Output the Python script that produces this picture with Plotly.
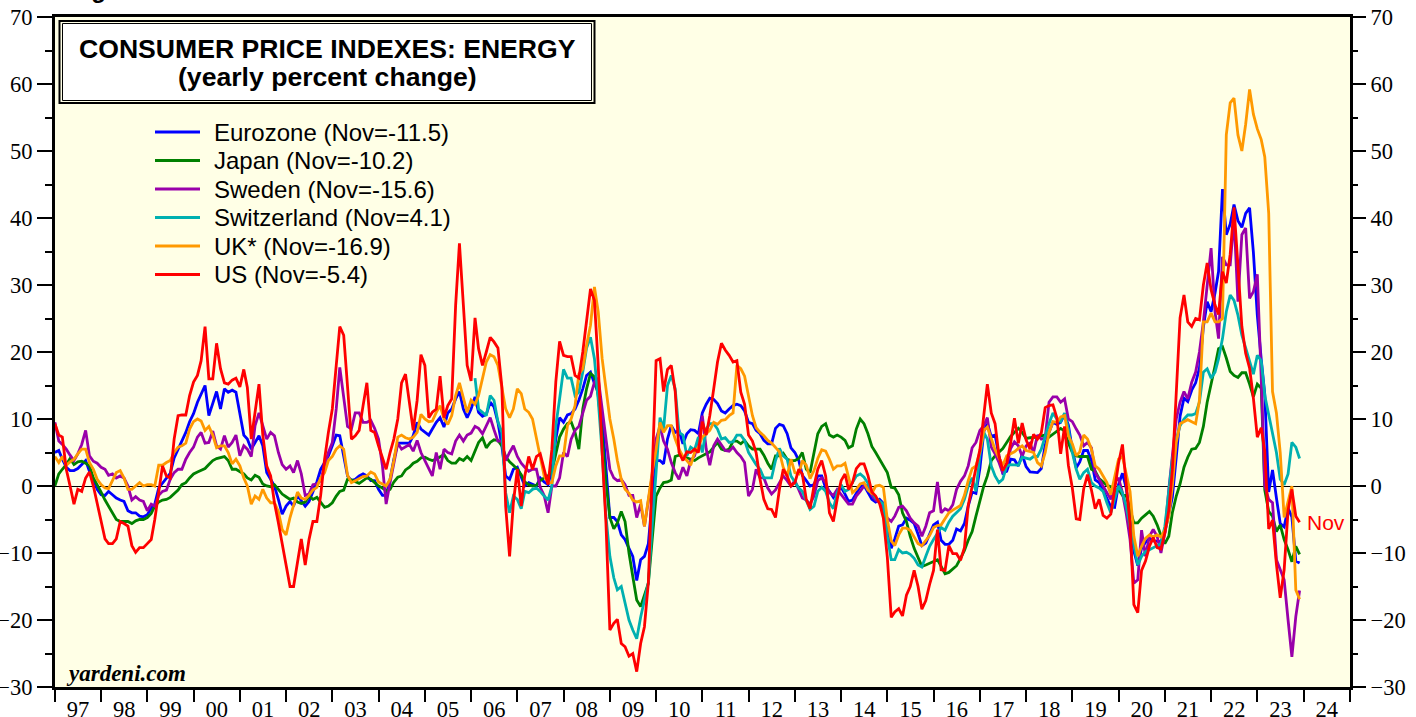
import pandas as pd
import plotly.graph_objects as go

# ---------------- data (yearly percent change, monthly; Dec 1996 .. Nov 2023) ----------------
us_values = (
    [9.3] +                                                                        # Dec 1996
    [7.6, 7.3, 2.5, 0.0, -2.7, -0.5, -0.8, 1.2, 2.1, 0.0, -2.7, -5.6] +          # 1997
    [-7.9, -8.6, -8.6, -7.9, -5.3, -5.6, -6.0, -8.9, -9.9, -9.2, -9.2, -8.6] +   # 1998
    [-8.0, -5.0, -1.0, 3.0, 1.5, 1.2, 7.0, 10.5, 10.6, 10.6, 13.5, 15.5] +       # 1999
    [16.5, 18.7, 23.8, 16.0, 16.0, 21.3, 17.5, 15.4, 15.2, 15.8, 16.1, 14.8] +   # 2000
    [17.4, 14.7, 7.0, 11.0, 15.2, 7.6, 3.0, 1.5, -2.5, -5.5, -8.5, -11.8] +      # 2001
    [-15.0, -15.0, -11.1, -7.9, -11.8, -8.0, -5.3, -5.3, -1.4, 4.0, 8.0, 11.5] + # 2002
    [18.0, 23.8, 22.5, 14.1, 7.0, 7.5, 8.3, 12.0, 15.4, 8.3, 8.0, 6.0] +         # 2003
    [4.0, 2.5, 5.0, 7.0, 10.0, 15.4, 16.7, 12.8, 8.3, 12.8, 19.6, 18.0] +        # 2004
    [10.2, 11.0, 11.5, 16.4, 10.2, 12.0, 13.0, 27.0, 36.2, 27.0, 18.0, 15.7] +   # 2005
    [25.1, 20.5, 18.0, 20.0, 22.2, 21.5, 20.6, 14.8, -3.0, -10.5, -2.5, 2.5] +   # 2006
    [-3.0, 1.5, 4.4, 2.5, 4.4, 4.8, 2.5, 0.2, 5.5, 15.5, 21.6, 19.5] +           # 2007
    [19.3, 19.3, 16.5, 16.1, 20.0, 24.5, 29.4, 27.7, 18.0, 5.0, -5.5, -21.5] +   # 2008
    [-20.5, -19.9, -23.5, -24.0, -25.4, -25.0, -27.7, -23.5, -21.0, -14.4, 2.0, 18.7] +  # 2009
    [19.0, 14.1, 17.4, 18.0, 14.1, 5.0, 3.8, 5.1, 5.0, 5.5, 5.0, 9.6] +          # 2010
    [7.6, 10.5, 14.5, 18.5, 21.3, 20.3, 19.5, 18.5, 18.7, 14.0, 12.2, 7.6] +     # 2011
    [6.7, 5.0, 1.0, -2.0, -3.4, -3.5, -4.7, -0.5, 2.5, 1.5, 0.0, 0.5] +          # 2012
    [2.5, 1.8, -2.0, -3.4, 0.0, 2.5, 3.8, 1.5, -4.0, -5.3, -2.0, 0.8] +          # 2013
    [1.8, -0.5, 0.5, 2.6, 3.3, 3.3, 1.6, -0.9, -1.5, -2.6, -4.8, -10.6] +        # 2014
    [-19.6, -18.8, -18.3, -19.4, -16.3, -15.0, -12.6, -15.0, -18.4, -17.1, -14.7, -12.6] +  # 2015
    [-6.5, -12.5, -12.6, -8.9, -10.1, -10.1, -11.1, -9.2, -2.9, 0.2, 2.7, 5.4] + # 2016
    [10.8, 15.2, 10.9, 9.3, 4.5, 2.3, 3.4, 6.4, 10.1, 6.4, 9.4, 6.9] +           # 2017
    [5.5, 7.7, 7.0, 7.9, 11.7, 12.0, 12.1, 10.2, 4.8, 8.9, 3.1, -0.3] +          # 2018
    [-4.9, -5.0, -0.4, 1.7, -0.6, -3.4, -2.0, -4.4, -4.8, -4.2, -0.6, 3.4] +     # 2019
    [6.2, 0.0, -5.7, -17.7, -18.9, -12.6, -11.2, -9.0, -7.7, -9.2, -9.4, -7.0] + # 2020
    [-3.6, 2.4, 13.2, 25.1, 28.5, 24.5, 23.8, 25.0, 24.8, 30.0, 33.3, 29.3] +    # 2021
    [27.0, 25.6, 32.0, 30.3, 34.6, 41.6, 32.9, 23.8, 19.8, 17.6, 13.1, 7.3] +    # 2022
    [8.7, 5.2, -6.4, -5.1, -11.7, -16.7, -12.5, -3.6, -0.5, -4.5, -5.4]          # 2023
)

eurozone_values = (
    [5.0] +
    [5.3, 4.0, 2.8, 2.3, 2.3, 2.6, 3.2, 3.8, 2.2, 1.0, -0.5, -1.3] +
    [-1.4, -0.8, -1.3, -1.8, -2.1, -2.3, -3.7, -4.0, -4.0, -4.5, -4.6, -4.3] +
    [-3.3, -2.7, -0.3, 0.4, 1.2, 1.9, 4.2, 5.5, 6.5, 8.0, 9.6, 10.8] +
    [12.5, 13.8, 15.0, 10.5, 12.5, 14.1, 11.5, 14.5, 14.0, 14.3, 14.0, 10.5] +
    [7.6, 7.0, 5.5, 6.5, 7.5, 6.0, 2.0, 1.0, 0.0, -2.0, -4.2, -3.0] +
    [-2.3, -3.0, -1.4, -2.2, -3.0, -2.3, -0.8, 0.6, 2.5, 3.6, 4.5, 6.0] +
    [7.6, 7.5, 4.5, 1.5, 0.8, 1.0, 1.5, 1.8, 1.5, 0.8, 0.8, -0.5] +
    [-1.4, -1.4, 1.0, 4.0, 6.4, 6.4, 6.4, 6.4, 7.5, 9.5, 8.5, 8.0] +
    [7.6, 8.5, 9.5, 10.2, 8.8, 10.9, 11.5, 13.0, 14.1, 11.5, 10.2, 11.5] +
    [13.3, 11.0, 10.4, 10.7, 12.5, 11.8, 9.5, 6.0, 1.5, 1.0, 2.5, 2.8] +
    [1.2, 0.0, 0.5, 0.2, 0.0, 1.2, 0.6, 0.2, 2.5, 7.0, 10.2, 9.5] +
    [10.6, 10.8, 11.5, 12.8, 14.5, 16.5, 17.0, 15.3, 14.0, 10.0, 2.0, -4.7] +
    [-4.7, -5.3, -7.3, -8.0, -9.3, -10.5, -14.1, -11.0, -10.5, -8.6, -2.0, 3.8] +
    [3.8, 3.3, 7.0, 9.0, 8.0, 8.3, 6.3, 7.8, 8.4, 8.3, 7.8, 10.9] +
    [12.2, 13.1, 12.9, 12.3, 11.2, 10.9, 11.5, 12.0, 12.2, 12.0, 11.2, 9.5] +
    [9.3, 8.3, 7.8, 6.8, 6.3, 6.3, 8.6, 9.2, 9.0, 7.8, 5.7, 5.0] +
    [3.8, 1.6, 0.8, 0.0, 0.2, 1.5, 1.5, -0.3, -0.8, -1.7, -0.9, -0.2] +
    [-1.2, -2.3, -2.1, -1.2, -0.1, 0.1, -1.0, -2.0, -2.4, -2.0, -2.6, -6.3] +
    [-9.3, -7.9, -6.0, -5.8, -4.8, -5.1, -5.6, -7.2, -8.9, -8.5, -7.3, -5.8] +
    [-5.4, -8.1, -8.7, -8.7, -8.1, -6.4, -6.7, -5.6, -3.0, -0.9, -1.1, 2.6] +
    [8.1, 9.3, 7.4, 7.6, 4.5, 1.9, 2.2, 4.0, 3.9, 3.0, 4.7, 2.9] +
    [2.1, 2.1, 2.0, 2.6, 6.1, 8.0, 9.5, 9.2, 9.5, 10.7, 9.1, 5.5] +
    [2.7, 3.6, 5.3, 5.3, 3.8, 0.9, 0.5, -0.6, -1.8, -3.1, -3.2, 0.2] +
    [1.9, -0.3, -4.5, -9.7, -11.9, -9.3, -8.4, -7.8, -8.2, -8.2, -8.3, -6.9] +
    [-4.2, -1.7, 4.3, 10.4, 13.1, 12.6, 14.3, 15.4, 17.6, 23.7, 27.5, 26.0] +
    [28.8, 32.0, 44.3, 37.5, 39.1, 42.0, 39.6, 38.6, 40.7, 41.5, 34.9, 25.5] +
    [18.9, 13.7, -0.9, 2.4, -1.8, -5.6, -6.1, -3.3, -4.6, -11.2, -11.5]
)

japan_values = (
    [0.0] +
    [1.8, 2.5, 3.2, 4.1, 3.2, 3.6, 3.7, 3.4, 3.0, 1.2, 0.2, -0.9] +
    [-2.1, -3.0, -4.2, -5.0, -5.3, -5.3, -5.3, -5.6, -5.2, -5.0, -5.0, -4.7] +
    [-4.1, -3.0, -2.4, -2.1, -2.0, -1.7, -1.2, -0.6, 0.2, 0.5, 1.2, 1.8] +
    [2.1, 2.4, 2.6, 3.2, 3.8, 4.1, 4.3, 4.4, 3.8, 2.5, 2.5, 2.2] +
    [1.8, 1.2, 0.9, 1.6, 1.3, 0.3, 0.0, -0.1, 0.2, -0.5, -1.2, -1.6] +
    [-2.0, -1.8, -2.4, -2.6, -2.4, -1.5, -2.0, -1.7, -2.4, -3.2, -3.0, -2.5] +
    [-1.5, -0.8, -0.6, 1.0, 0.9, 0.6, 0.4, 0.8, 1.2, 1.0, 0.5, 0.0] +
    [-0.3, -0.7, -0.5, 0.6, 1.3, 1.5, 2.4, 2.8, 3.4, 3.7, 4.2, 4.3] +
    [4.0, 3.8, 4.0, 4.4, 4.7, 3.8, 3.4, 3.4, 4.1, 3.8, 4.4, 3.8] +
    [5.2, 6.5, 7.2, 5.7, 6.5, 6.9, 6.8, 6.0, 4.4, 3.6, 3.1, 2.5] +
    [1.7, 0.6, 0.2, 0.0, 0.1, 0.8, 1.2, 1.5, 2.2, 4.8, 7.3, 8.5] +
    [9.3, 9.6, 8.0, 5.5, 11.5, 14.5, 16.8, 16.3, 13.5, 7.5, 0.5, -4.7] +
    [-6.4, -5.5, -3.8, -5.3, -10.0, -13.5, -17.0, -18.0, -16.3, -14.5, -8.0, -1.5] +
    [-0.3, 0.5, 0.6, 0.9, 4.4, 4.6, 4.4, 4.2, 4.0, 3.8, 4.2, 4.5] +
    [4.8, 5.1, 5.8, 6.5, 5.5, 5.3, 5.5, 6.7, 6.7, 6.3, 6.8, 6.0] +
    [5.5, 5.5, 5.5, 4.6, 3.4, 2.5, 4.5, 4.5, 4.9, 4.0, 3.8, 3.8] +
    [4.1, 5.0, 2.5, 2.0, 4.7, 7.8, 8.9, 9.3, 7.6, 7.3, 7.6, 7.3] +
    [6.8, 5.7, 6.0, 8.5, 10.0, 9.3, 7.8, 5.9, 5.0, 4.0, 3.0, 2.0] +
    [-0.2, -0.3, -1.3, -4.0, -5.3, -7.5, -9.3, -10.6, -12.0, -11.8, -11.5, -11.2] +
    [-11.0, -12.0, -13.1, -12.9, -12.4, -11.9, -10.8, -9.6, -8.1, -6.8, -4.5, -2.3] +
    [0.0, 1.5, 3.8, 4.5, 5.0, 5.6, 6.5, 7.4, 8.0, 8.6, 8.0, 7.1] +
    [7.2, 7.2, 7.3, 7.5, 7.6, 7.3, 7.7, 8.1, 8.6, 8.2, 6.4, 5.0] +
    [4.5, 4.4, 4.4, 4.4, 2.5, 2.2, 1.1, 0.6, 0.1, -0.1, -0.8, -0.5] +
    [-1.4, -1.4, -3.7, -5.5, -5.5, -4.8, -4.3, -3.8, -4.5, -5.8, -7.4, -8.6] +
    [-7.5, -4.0, -1.5, 0.3, 2.8, 4.3, 5.5, 5.6, 6.5, 8.9, 12.5, 15.0] +
    [17.9, 20.5, 20.8, 19.1, 17.1, 16.5, 16.2, 16.9, 16.9, 15.2, 13.3, 15.2] +
    [14.6, -0.6, -3.8, -4.5, -6.8, -5.8, -8.0, -9.5, -11.3, -9.0, -10.2]
)

sweden_values = (
    [9.5] +
    [6.7, 6.2, 5.5, 4.6, 3.8, 4.8, 6.2, 8.3, 4.5, 3.7, 3.4, 2.8] +
    [2.5, 1.6, 1.8, 1.2, 1.5, 1.2, 0.0, -2.1, -1.6, -2.1, -2.3, -3.7] +
    [-2.7, -3.0, -1.4, -0.8, -0.6, 1.0, 2.0, 2.5, 2.5, 4.0, 5.0, 5.8] +
    [7.3, 8.0, 6.4, 6.5, 8.2, 6.0, 5.5, 7.5, 5.8, 6.5, 7.6, 4.5] +
    [6.0, 5.5, 4.4, 9.0, 10.9, 9.0, 7.0, 8.0, 7.5, 5.0, 3.2, 2.5] +
    [3.0, 2.0, 3.8, 1.8, -1.4, -1.2, 0.2, 0.3, 0.8, 3.0, 5.0, 6.5] +
    [11.5, 17.7, 13.0, 8.9, 8.5, 10.9, 10.9, 9.5, 9.5, 9.8, 8.6, 7.0] +
    [3.0, -2.7, 0.5, 3.5, 6.4, 5.5, 5.8, 6.2, 5.2, 6.8, 5.0, 3.8] +
    [2.5, 1.5, 5.0, 2.5, 5.5, 5.0, 4.8, 6.7, 7.6, 6.7, 7.6, 7.9] +
    [8.9, 8.6, 7.8, 8.9, 10.2, 8.4, 6.7, 6.7, 3.8, 5.0, 6.0, 4.4] +
    [3.4, 2.8, 2.2, 2.5, 2.5, -0.2, -1.4, -4.0, 0.0, 0.0, 1.2, 5.0] +
    [4.4, 7.0, 8.3, 8.9, 11.0, 12.8, 13.4, 15.5, 16.1, 11.5, 7.0, 2.5] +
    [1.2, 0.8, 1.0, 0.2, -1.4, -1.4, -4.7, -2.7, -6.0, -2.0, 1.5, 7.0] +
    [8.9, 6.7, 5.5, 3.5, 2.0, 1.0, 2.8, 1.5, 3.8, 4.5, 6.5, 10.5] +
    [5.5, 3.1, 6.0, 7.0, 6.2, 5.3, 5.2, 5.8, 5.0, 4.4, 3.5, -1.5] +
    [-0.5, 2.5, 1.2, 1.2, -0.3, -1.2, -0.6, 0.5, 1.5, 0.8, 0.0, 0.8] +
    [-0.5, -1.8, -2.1, -2.7, -1.5, 0.8, 1.2, 0.5, -1.0, -1.4, -0.5, -1.2] +
    [-2.0, -2.7, -2.7, -1.5, -0.8, 0.0, 0.1, -1.4, -2.1, -2.5, -3.7, -4.8] +
    [-5.3, -4.5, -3.2, -3.0, -3.7, -4.8, -5.5, -6.0, -7.5, -6.0, -4.0, -3.7] +
    [0.6, -4.0, -3.4, -3.7, -2.8, -0.5, 0.7, 1.5, 3.0, 5.7, 6.5, 8.3] +
    [9.0, 10.2, 5.8, 4.8, 3.5, 1.9, 3.0, 5.6, 6.6, 6.0, 4.4, 6.0] +
    [6.4, 5.0, 7.6, 7.0, 7.2, 12.5, 13.3, 13.3, 12.5, 13.0, 10.0, 9.6] +
    [8.5, 7.6, 6.0, 6.5, 5.7, 2.0, 1.0, 0.0, -1.0, -2.0, 0.5, 1.2] +
    [-1.0, -4.0, -8.0, -14.5, -14.0, -6.6, -10.5, -7.5, -6.5, -7.5, -10.0, -7.0] +
    [-0.5, 5.0, 10.0, 12.5, 14.1, 13.0, 15.5, 17.0, 20.0, 24.5, 30.0, 35.5] +
    [26.0, 22.0, 34.2, 33.0, 33.0, 40.0, 27.5, 37.5, 38.5, 28.0, 29.0, 31.6] +
    [16.0, 0.0, -2.0, -2.5, -11.0, -12.5, -14.0, -20.0, -25.5, -19.5, -15.6]
)

# Switzerland series starts January 2006
switzerland_values = (
    [16.1, 11.5, 11.0, 10.5, 13.5, 12.8, 9.6, 8.0, -1.0, -4.0, -1.5, -2.0] +
    [-3.4, -0.8, -1.0, -0.5, -0.3, -0.8, -1.5, -2.1, 0.0, 9.0, 13.0, 17.4] +
    [16.1, 16.1, 13.5, 14.0, 17.0, 20.6, 22.2, 19.0, 12.8, 5.0, -4.5, -10.5] +
    [-13.7, -15.5, -15.0, -17.6, -20.0, -21.5, -22.8, -19.6, -17.0, -14.4, -6.0, 2.0] +
    [10.2, 8.5, 15.0, 16.5, 14.5, 8.0, 7.6, 4.5, 5.8, 5.4, 7.3, 5.0] +
    [8.5, 9.3, 9.3, 8.5, 7.0, 7.2, 6.5, 6.6, 7.6, 7.6, 6.8, 5.0] +
    [4.0, 3.2, 2.5, 1.2, 1.2, 1.2, 3.8, 5.6, 4.5, 4.0, 1.5, 0.5] +
    [-0.3, -0.8, -2.2, -3.5, -3.0, -0.8, -0.2, -0.8, -2.5, -3.4, -1.0, 0.2] +
    [-0.8, -0.5, 0.5, 1.5, 1.8, 1.3, 0.4, -0.9, -1.8, -2.2, -2.7, -7.5] +
    [-11.0, -11.0, -9.5, -10.0, -9.9, -10.2, -10.8, -11.8, -12.1, -10.5, -9.0, -8.0] +
    [-7.0, -6.2, -6.6, -5.4, -4.5, -4.0, -3.4, -2.0, 0.0, 1.2, -0.8, 4.5] +
    [8.0, 7.0, 3.0, 1.5, 0.5, 1.0, 3.0, 3.2, 3.1, 3.1, 4.3, 4.2] +
    [4.0, 4.4, 4.4, 5.5, 7.5, 9.3, 10.9, 10.0, 9.6, 10.9, 8.5, 5.0] +
    [2.5, 1.0, 2.0, 2.5, 0.5, 0.0, -0.3, -0.8, -2.5, -4.0, -2.0, 0.0] +
    [-1.0, -3.0, -6.0, -9.0, -11.8, -10.5, -9.8, -9.5, -9.2, -8.9, -8.6, -6.0] +
    [-1.0, 4.0, 7.0, 9.0, 10.0, 10.6, 10.6, 10.8, 12.5, 17.0, 17.5, 16.1] +
    [17.0, 19.0, 22.0, 26.0, 28.5, 27.7, 25.5, 22.5, 20.6, 18.7, 16.7, 19.5] +
    [18.7, 13.5, 10.5, 8.0, 5.0, 1.0, 0.2, 1.8, 6.5, 5.8, 4.1]
)

uk_values = (
    [4.4] +
    [3.5, 4.4, 3.1, 3.6, 4.0, 4.8, 5.5, 5.5, 3.5, 2.5, 1.0, 0.2] +
    [-0.3, -0.4, 0.8, 2.0, 2.3, 1.2, -0.5, -0.5, 0.0, 0.5, 0.0, 0.2] +
    [0.2, 0.0, 3.1, 3.1, 3.5, 3.8, 5.0, 5.8, 6.0, 6.4, 8.5, 9.6] +
    [10.0, 9.7, 8.3, 8.9, 7.6, 5.7, 6.0, 6.0, 5.0, 3.3, 4.0, 3.0] +
    [1.2, 0.0, -2.7, -1.5, -2.0, -0.5, -1.8, -2.5, -2.5, -3.8, -6.5, -7.3] +
    [-4.7, -2.8, -0.9, -1.8, -2.0, -1.4, -0.6, -0.2, 1.2, 2.0, 3.8, 4.4] +
    [5.5, 6.0, 5.5, 1.6, 0.5, 0.8, 1.1, 1.4, 1.5, 2.1, 1.8, 0.6] +
    [0.3, 0.0, 1.0, 3.8, 7.3, 7.6, 7.2, 7.0, 7.3, 8.0, 10.7, 10.0] +
    [9.6, 9.7, 11.0, 12.0, 10.0, 9.2, 10.5, 13.5, 15.4, 13.0, 11.0, 12.8] +
    [12.2, 13.5, 16.0, 18.5, 19.6, 19.3, 18.0, 14.8, 11.5, 10.2, 11.5, 14.5] +
    [13.8, 11.5, 11.0, 10.0, 7.0, 4.0, 1.5, 0.5, 0.5, 3.0, 4.5, 4.5] +
    [9.0, 10.0, 12.0, 16.7, 17.5, 21.0, 24.0, 29.7, 26.0, 19.0, 14.1, 10.0] +
    [7.0, 3.8, 1.0, -0.5, -1.1, -2.1, -2.4, -2.2, -6.0, -1.5, 2.0, 5.5] +
    [9.5, 8.0, 9.0, 9.0, 7.0, 5.5, 4.4, 3.8, 3.1, 5.0, 5.8, 7.3] +
    [7.8, 8.3, 9.5, 9.2, 9.8, 9.9, 10.5, 10.9, 18.0, 17.5, 16.4, 13.5] +
    [10.5, 8.7, 8.0, 7.5, 6.8, 6.4, 5.7, 5.1, 2.8, 1.5, 4.0, 2.0] +
    [1.8, 3.8, 3.1, 1.1, 2.3, 4.1, 5.4, 5.2, 4.0, 2.5, 3.0, 3.0] +
    [3.4, 1.2, -1.0, -0.5, 0.3, 0.5, -0.6, -1.1, 0.0, 0.1, -0.2, -5.0] +
    [-8.2, -8.9, -7.3, -6.3, -6.3, -6.6, -7.6, -8.6, -8.9, -8.2, -7.4, -6.2] +
    [-5.9, -5.8, -4.8, -4.0, -3.6, -3.3, -2.9, -1.4, 0.8, 2.6, 3.0, 5.1] +
    [8.3, 8.8, 7.0, 5.4, 4.2, 3.1, 4.5, 4.8, 5.1, 5.6, 6.0, 5.3] +
    [5.1, 5.0, 3.5, 3.0, 5.0, 8.0, 9.6, 9.5, 10.3, 10.5, 7.5, 6.3] +
    [4.5, 5.1, 7.6, 7.0, 5.5, 3.0, 2.5, 1.5, 0.5, -1.3, 1.2, 4.0] +
    [4.4, 2.0, -0.8, -7.5, -10.5, -9.0, -7.8, -7.3, -7.6, -7.3, -7.6, -6.6] +
    [-4.5, 0.0, 6.5, 9.3, 9.6, 9.9, 9.6, 9.3, 12.8, 24.5, 24.5, 25.8] +
    [24.5, 24.5, 25.0, 52.4, 57.2, 57.9, 52.4, 50.0, 54.0, 59.2, 55.5, 53.3] +
    [51.7, 49.1, 40.7, 14.1, 10.9, 5.0, -4.7, -2.5, 0.0, -15.5, -16.9]
)

series_names = ["Eurozone (Nov=-11.5)", "Japan (Nov=-10.2)", "Sweden (Nov=-15.6)",
                "Switzerland (Nov=4.1)", "UK* (Nov=-16.9)", "US (Nov=-5.4)"]
series_values = [eurozone_values, japan_values, sweden_values,
                 switzerland_values, uk_values, us_values]
series_start = ["1996-12-31", "1996-12-31", "1996-12-31", "2006-01-31", "1996-12-31", "1996-12-31"]
series_colors = ["#0000FF", "#008000", "#9900AA", "#00B0B0", "#FF9900", "#FF0000"]

y_ticks = list(range(-30, 71, 10))

# ---------------- geometry ----------------
W, H = 1416, 717
L, R, T, B = 55, 66, 17, 30
PW, PH = W - L - R, H - T - B


def fx(px):
    return (px - L) / PW


def fy(py):
    return (H - B - py) / PH


SERIF = "Liberation Serif, Times New Roman, serif"
SANS = "Liberation Sans, Arial, sans-serif"

fig = go.Figure()
for name, vals, start, col in zip(series_names, series_values, series_start, series_colors):
    dates = pd.date_range(start, periods=len(vals), freq=pd.offsets.MonthEnd())
    fig.add_trace(go.Scatter(x=dates, y=vals, mode="lines", name=name,
                             line=dict(color=col, width=2.8), showlegend=False,
                             hoverinfo="skip"))

# invisible trace to activate the right-hand axis
fig.add_trace(go.Scatter(x=[pd.Timestamp("1997-06-30")], y=[0], yaxis="y2", mode="markers",
                         marker=dict(opacity=0), showlegend=False, hoverinfo="skip"))

axis_font = dict(family=SERIF, size=22.5, color="black")
minor = dict(dtick=5, ticks="outside", ticklen=7, tickwidth=2, tickcolor="black")

fig.update_layout(
    width=W, height=H,
    margin=dict(l=L, r=R, t=T, b=B, autoexpand=False),
    paper_bgcolor="white",
    plot_bgcolor="#FFFFE6",
    showlegend=False,
    xaxis=dict(
        type="date", range=["1997-01-01", "2025-01-01"],
        tick0="1997-01-01", dtick="M12", tickformat="%y", ticklabelmode="period",
        ticks="outside", ticklen=12, tickwidth=2, tickcolor="black",
        showline=True, linewidth=3, linecolor="black", mirror=True,
        showgrid=False, zeroline=False, tickfont=axis_font, automargin=False,
        ticklabelstandoff=-12,
    ),
    yaxis=dict(
        range=[-30, 70], tickmode="array", tickvals=y_ticks,
        ticks="outside", ticklen=15, tickwidth=2, tickcolor="black", minor=minor,
        showline=True, linewidth=3, linecolor="black", mirror=True,
        showgrid=False, zeroline=True, zerolinecolor="black", zerolinewidth=1,
        tickfont=axis_font, automargin=False, ticklabelstandoff=0,
    ),
    yaxis2=dict(
        range=[-30, 70], overlaying="y", side="right", tickmode="array", tickvals=y_ticks,
        ticks="outside", ticklen=15, tickwidth=2, tickcolor="black", minor=minor,
        showline=False, showgrid=False, zeroline=False,
        tickfont=axis_font, automargin=False, ticklabelstandoff=0,
    ),
)

shapes = []
annotations = []

# title box (double border)
shapes.append(dict(type="rect", xref="paper", yref="paper",
                   x0=fx(59.5), x1=fx(594.5), y0=fy(103), y1=fy(21),
                   line=dict(color="black", width=2), fillcolor="rgba(0,0,0,0)", layer="above"))
shapes.append(dict(type="rect", xref="paper", yref="paper",
                   x0=fx(62.5), x1=fx(591.5), y0=fy(100.5), y1=fy(23.5),
                   line=dict(color="black", width=1), fillcolor="white", layer="above"))
annotations.append(dict(xref="paper", yref="paper", x=fx(327), y=fy(49),
                        text="<b>CONSUMER PRICE INDEXES: ENERGY</b>", showarrow=False,
                        font=dict(family=SANS, size=26.6, color="black"),
                        xanchor="center", yanchor="middle"))
annotations.append(dict(xref="paper", yref="paper", x=fx(327), y=fy(77),
                        text="<b>(yearly percent change)</b>", showarrow=False,
                        font=dict(family=SANS, size=26.6, color="black"),
                        xanchor="center", yanchor="middle"))

# legend
for i, (name, col) in enumerate(zip(series_names, series_colors)):
    yy = 132 + i * 28.5
    shapes.append(dict(type="line", xref="paper", yref="paper",
                       x0=fx(155), x1=fx(200), y0=fy(yy), y1=fy(yy),
                       line=dict(color=col, width=3), layer="above"))
    annotations.append(dict(xref="paper", yref="paper", x=fx(212), y=fy(yy),
                            text=name, showarrow=False,
                            font=dict(family=SANS, size=24, color="black"),
                            xanchor="left", yanchor="middle"))

annotations.append(dict(xref="paper", yref="paper", x=fx(64), y=fy(673),
                        text="<b><i>yardeni.com</i></b>", showarrow=False,
                        font=dict(family=SERIF, size=23, color="black"),
                        xanchor="left", yanchor="middle"))
annotations.append(dict(xref="paper", yref="paper", x=fx(1326), y=fy(522),
                        text="Nov", showarrow=False,
                        font=dict(family=SANS, size=21, color="#FF0000"),
                        xanchor="center", yanchor="middle"))
annotations.append(dict(xref="paper", yref="paper", x=fx(68), y=fy(-11),
                        text="<b>Figure 5.</b>", showarrow=False,
                        font=dict(family=SANS, size=24, color="black"),
                        xanchor="left", yanchor="middle"))

fig.update_layout(shapes=shapes, annotations=annotations)
fig.write_html("out.html", config={"displayModeBar": False},
               post_script="document.body.style.margin='0';document.body.style.overflow='hidden';")
